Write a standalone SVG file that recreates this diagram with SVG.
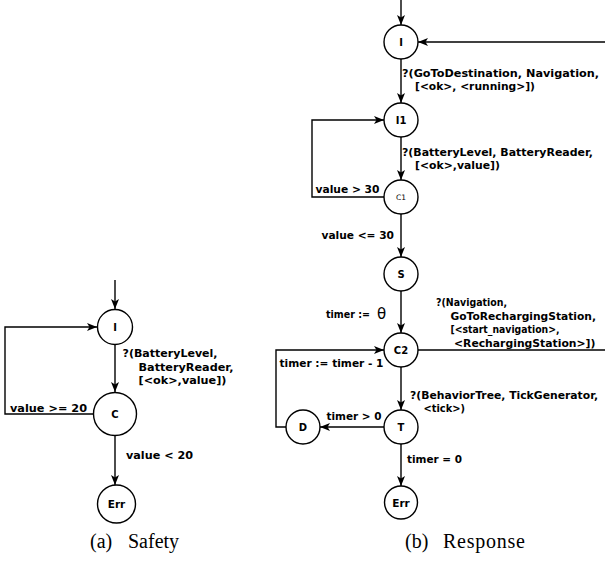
<svg xmlns="http://www.w3.org/2000/svg" width="605" height="567" viewBox="0 0 605 567">
<style>
.n{fill:#fff;stroke:#000;stroke-width:1.4}
.e{fill:none;stroke:#000;stroke-width:1.4}
.l{font-family:"DejaVu Sans",sans-serif;font-weight:bold;font-size:10.8px;fill:#000}
.nl{font-family:"DejaVu Sans",sans-serif;font-weight:bold;font-size:10px;fill:#000;text-anchor:middle;dominant-baseline:central}
.cap{font-family:"Liberation Serif",serif;font-size:20px;fill:#000}
</style>
<defs>
<marker id="a" markerUnits="userSpaceOnUse" markerWidth="10" markerHeight="8" refX="10" refY="4" orient="auto">
<path d="M0,0 L10,4 L0,8 L2.5,4 z" fill="#000"/>
</marker>
</defs>
<rect width="605" height="567" fill="#fff"/>
<g id="connectors">
<line class="e" x1="115" y1="280" x2="115" y2="309" marker-end="url(#a)"/>
<line class="e" x1="115" y1="345" x2="115" y2="392" marker-end="url(#a)"/>
<polyline class="e" points="93,414 5,414 5,327 97,327" marker-end="url(#a)"/>
<line class="e" x1="115" y1="436" x2="115" y2="485" marker-end="url(#a)"/>
<line class="e" x1="401" y1="0" x2="401" y2="25" marker-end="url(#a)"/>
<line class="e" x1="605" y1="42" x2="418" y2="42" marker-end="url(#a)"/>
<line class="e" x1="401" y1="59" x2="401" y2="103" marker-end="url(#a)"/>
<line class="e" x1="401" y1="137" x2="401" y2="180" marker-end="url(#a)"/>
<polyline class="e" points="384,197 312,197 312,120 384,120" marker-end="url(#a)"/>
<line class="e" x1="401" y1="214" x2="401" y2="257" marker-end="url(#a)"/>
<line class="e" x1="401" y1="291" x2="401" y2="333" marker-end="url(#a)"/>
<line class="e" x1="418" y1="350" x2="605" y2="350"/>
<line class="e" x1="401" y1="367" x2="401" y2="410" marker-end="url(#a)"/>
<line class="e" x1="384" y1="427" x2="320" y2="427" marker-end="url(#a)"/>
<polyline class="e" points="286,427 276,427 276,350 384,350" marker-end="url(#a)"/>
<line class="e" x1="401" y1="444" x2="401" y2="486" marker-end="url(#a)"/>
</g>
<g id="labels">
<text class="l" x="122.5" y="357" textLength="95" lengthAdjust="spacingAndGlyphs">?(BatteryLevel,</text>
<text class="l" x="138.5" y="370.5" textLength="95" lengthAdjust="spacingAndGlyphs">BatteryReader,</text>
<text class="l" x="138.5" y="384" textLength="88" lengthAdjust="spacingAndGlyphs">[&lt;ok&gt;,value])</text>
<text class="l" x="10" y="412" textLength="77" lengthAdjust="spacingAndGlyphs">value &gt;= 20</text>
<text class="l" x="126" y="459" textLength="67" lengthAdjust="spacingAndGlyphs">value &lt; 20</text>
<text class="l" x="402" y="77" textLength="197" lengthAdjust="spacingAndGlyphs">?(GoToDestination, Navigation,</text>
<text class="l" x="415" y="89.5" textLength="120" lengthAdjust="spacingAndGlyphs">[&lt;ok&gt;, &lt;running&gt;])</text>
<text class="l" x="402" y="156" textLength="191" lengthAdjust="spacingAndGlyphs">?(BatteryLevel, BatteryReader,</text>
<text class="l" x="415" y="169" textLength="85" lengthAdjust="spacingAndGlyphs">[&lt;ok&gt;,value])</text>
<text class="l" x="315.5" y="193" textLength="64" lengthAdjust="spacingAndGlyphs">value &gt; 30</text>
<text class="l" x="321.5" y="238.5" textLength="72.5" lengthAdjust="spacingAndGlyphs">value &lt;= 30</text>
<text class="l" x="326" y="318" textLength="44" lengthAdjust="spacingAndGlyphs">timer :=</text>
<text x="377" y="319" style="font-family:'DejaVu Sans',sans-serif;font-size:15px">θ</text>
<text class="l" x="436" y="306" textLength="71" lengthAdjust="spacingAndGlyphs">?(Navigation,</text>
<text class="l" x="450.5" y="319.5" textLength="145.5" lengthAdjust="spacingAndGlyphs">GoToRechargingStation,</text>
<text class="l" x="450.5" y="333" textLength="109" lengthAdjust="spacingAndGlyphs">[&lt;start_navigation&gt;,</text>
<text class="l" x="454" y="347" textLength="141.5" lengthAdjust="spacingAndGlyphs">&lt;RechargingStation&gt;])</text>
<text class="l" x="279.5" y="367" textLength="104" lengthAdjust="spacingAndGlyphs">timer := timer - 1</text>
<text class="l" x="410" y="399" textLength="188" lengthAdjust="spacingAndGlyphs">?(BehaviorTree, TickGenerator,</text>
<text class="l" x="423.5" y="411.5" textLength="41.5" lengthAdjust="spacingAndGlyphs">&lt;tick&gt;)</text>
<text class="l" x="326.5" y="420" textLength="55" lengthAdjust="spacingAndGlyphs">timer &gt; 0</text>
<text class="l" x="407" y="463" textLength="55" lengthAdjust="spacingAndGlyphs">timer = 0</text>
</g>
<g id="node-a-I"><circle class="n" cx="115" cy="327" r="17.5"/><text class="nl" x="115" y="327">I</text></g>
<g id="node-a-C"><circle class="n" cx="115" cy="414" r="21.5"/><text class="nl" x="115" y="414">C</text></g>
<g id="node-a-Err"><circle class="n" cx="116.5" cy="504" r="19"/><text class="nl" x="116.5" y="504" style="font-size:10.5px">Err</text></g>
<g id="node-b-I"><circle class="n" cx="401" cy="42" r="17"/><text class="nl" x="401" y="42">I</text></g>
<g id="node-b-I1"><circle class="n" cx="401" cy="120" r="17"/><text class="nl" x="401" y="120">I1</text></g>
<g id="node-b-C1"><circle class="n" cx="401" cy="197" r="17"/><text class="nl" x="401" y="197" style="font-weight:normal;font-size:7.5px">C1</text></g>
<g id="node-b-S"><circle class="n" cx="401" cy="274" r="17"/><text class="nl" x="401" y="274">S</text></g>
<g id="node-b-C2"><circle class="n" cx="401" cy="350" r="17"/><text class="nl" x="401" y="350">C2</text></g>
<g id="node-b-T"><circle class="n" cx="401" cy="427" r="17"/><text class="nl" x="401" y="427">T</text></g>
<g id="node-b-D"><circle class="n" cx="303" cy="427" r="17"/><text class="nl" x="303" y="427">D</text></g>
<g id="node-b-Err"><circle class="n" cx="401" cy="502.5" r="16.5"/><text class="nl" x="401" y="502.5" style="font-size:10.5px">Err</text></g>
<g id="captions">
<text class="cap" x="90" y="548">(a)</text>
<text class="cap" x="128" y="548">Safety</text>
<text class="cap" x="405" y="548">(b)</text>
<text class="cap" x="443" y="548" textLength="82">Response</text>
</g>
</svg>
